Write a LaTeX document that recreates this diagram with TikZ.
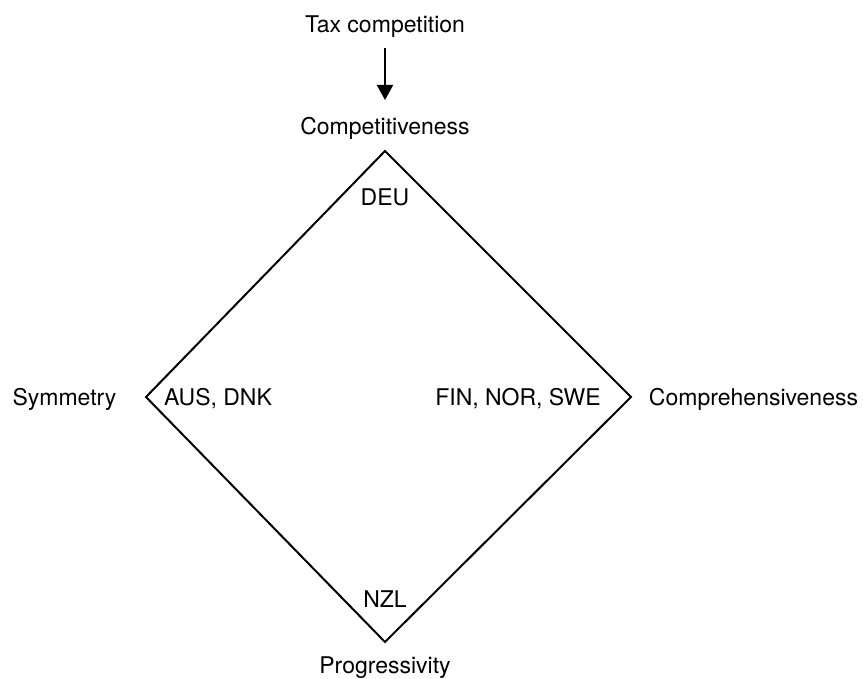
\documentclass[tikz,border=0pt]{standalone}
\usepackage{fontspec}
\setmainfont{TeX Gyre Heros}
\usetikzlibrary{arrows.meta}

\begin{document}
\begin{tikzpicture}[x=1pt, y=-1pt,
  lbl/.style={inner sep=0pt, anchor=base, font=\fontsize{23}{27}\selectfont},
  edge/.style={line width=2pt}]
\useasboundingbox (0,0) rectangle (863,679);
% corners of the diamond
\coordinate (top) at (385,151);
\coordinate (right) at (631,397);
\coordinate (bottom) at (385,642);
\coordinate (left) at (146,397);
\draw[edge, line join=miter] (top) -- (right) -- (bottom) -- (left) -- cycle;
% corner labels
\node[lbl] (tax) at (385,33) {Tax competition};
\node[lbl] (compet) at (385,135) {Competitiveness};
\node[lbl] (sym) at (64.5,405) {Symmetry};
\node[lbl] (compre) at (753.5,405) {Comprehensiveness};
\node[lbl] (prog) at (385,673.5) {Progressivity};
% countries
\node[lbl] (deu) at (385,206) {DEU};
\node[lbl] (ausdnk) at (218,405) {AUS, DNK};
\node[lbl] (nordic) at (518,405) {FIN, NOR, SWE};
\node[lbl] (nzl) at (385,607) {NZL};
\draw[edge, -{Triangle[length=15pt, width=16pt]}] ([yshift=-15pt]tax.base) -- ([yshift=35pt]compet.base);
\end{tikzpicture}
\end{document}
